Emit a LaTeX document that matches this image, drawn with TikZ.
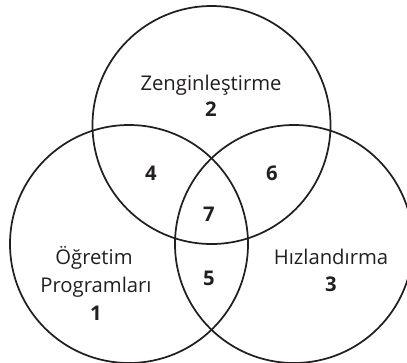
\documentclass[tikz,border=0pt]{standalone}
\usepackage{fontspec}
\setmainfont{Open Sans}
\usepackage{xcolor}
\definecolor{inkgray}{RGB}{35,31,32}
\tikzset{
  venn/.style={draw=inkgray, line width=1.3pt, circle, minimum size=178.5pt, inner sep=0pt},
  lbl/.style={text=inkgray, font=\fontsize{15.2}{21}\selectfont, anchor=base, inner sep=0pt},
  num/.style={lbl, font=\fontsize{15.2}{21}\selectfont\bfseries}
}

\begin{document}
\begin{tikzpicture}[x=0.75pt,y=0.75pt,yscale=-1,xscale=1]
\useasboundingbox (0,0) rectangle (407,362);

% Circles
\node [venn] (zengin) at (211.5,125) {};
\node [venn] (ogretim) at (129,244) {};
\node [venn] (hizli) at (294,244) {};

% Text Node
\node [lbl] (zt) at (211,90) {Zenginleştirme};
% Text Node
\node [num] (n2) at (211,116) {2};
% Text Node
\node [lbl] (ot1) at (94,264) {Öğretim};
% Text Node
\node [lbl] (ot2) at (96,292) {Programları};
% Text Node
\node [num] (n1) at (96,320) {1};
% Text Node
\node [lbl] (ht) at (331,264) {Hızlandırma};
% Text Node
\node [num] (n3) at (331,291) {3};
% Text Node
\node [num] (n4) at (151,180) {4};
% Text Node
\node [num] (n6) at (272,180) {6};
% Text Node
\node [num] (n7) at (209,221) {7};
% Text Node
\node [num] (n5) at (209,285) {5};

\end{tikzpicture}
\end{document}
